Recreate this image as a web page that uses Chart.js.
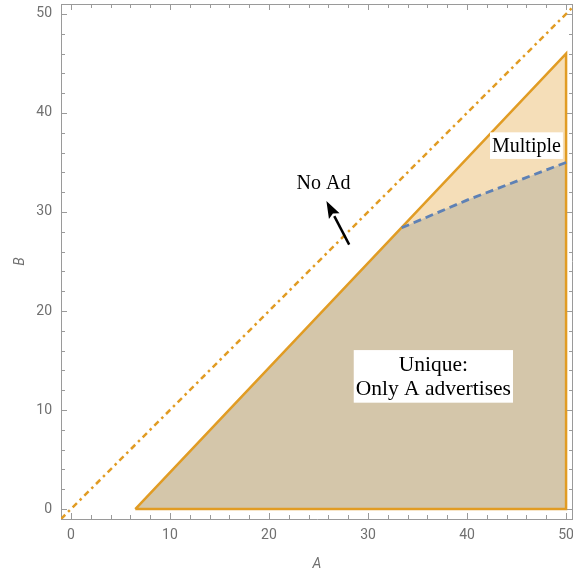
<!DOCTYPE html>
<html>
<head>
<meta charset="utf-8">
<script src="https://cdn.jsdelivr.net/npm/chart.js@4.4.1/dist/chart.umd.min.js"></script>
<style>
  html, body { margin: 0; padding: 0; background: #fff; }
  canvas { display: block; }
</style>
</head>
<body>
<canvas id="regionChart" width="573" height="574"></canvas>
<script>
(function() {
    'use strict';

    // Outer region boundary: A threshold line, right edge, bottom edge
    const outerA = [6.5, 50, 50, 6.5];
    const outerB = [0, 46, 0, 0];

    // "Only A advertises" region (below the dashed boundary)
    const uniqueA = [6.5, 33.4, 40, 50, 50, 6.5];
    const uniqueB = [0, 28.4, 31.2, 35, 0, 0];

    // Dashed boundary between unique and multiple
    const splitA = [33.4, 40, 50];
    const splitB = [28.4, 31.2, 35];

    // Dash-dot diagonal B = A
    const diagA = [-1, 51];
    const diagB = [-1, 51];

    const xTicks = [0, 10, 20, 30, 40, 50];
    const yTicks = [0, 10, 20, 30, 40, 50];

    // Text labels placed in data coordinates
    const labelText = [['No Ad'], ['Multiple'], ['Unique:', 'Only A advertises']];
    const labelA = [25.5, 46.0, 36.6];
    const labelB = [33.0, 36.7, 13.4];
    const labelSize = [20, 20, 21.5];
    const labelBoxed = [false, true, true];

    // Arrow from tail to head (data coordinates)
    const arrowA = [28.1, 25.8];
    const arrowB = [26.7, 31.1];

    const ORANGE = '#E19C24';
    const BLUE = '#5E81B5';
    const AXIS_GRAY = '#9a9a9a';
    const LABEL_GRAY = '#707070';

    function toPoints(xs, ys) {
        return xs.map((x, i) => ({ x: x, y: ys[i] }));
    }

    // Inward ticks on all four sides plus top/right frame
    const frameTicks = {
        id: 'frameTicks',
        afterDatasetsDraw(chart) {
            const ctx = chart.ctx;
            const area = chart.chartArea;
            const xs = chart.scales.x;
            const ys = chart.scales.y;
            ctx.save();
            ctx.strokeStyle = AXIS_GRAY;
            ctx.lineWidth = 1;
            ctx.beginPath();
            ctx.moveTo(area.left, area.top + 0.5);
            ctx.lineTo(area.right, area.top + 0.5);
            ctx.moveTo(area.right - 0.5, area.top);
            ctx.lineTo(area.right - 0.5, area.bottom);
            for (let v = 0; v <= 50; v += 2) {
                const len = (v % 10 === 0) ? 6 : 4;
                const px = Math.round(xs.getPixelForValue(v)) + 0.5;
                ctx.moveTo(px, area.bottom);
                ctx.lineTo(px, area.bottom - len);
                ctx.moveTo(px, area.top);
                ctx.lineTo(px, area.top + len);
                const py = Math.round(ys.getPixelForValue(v)) + 0.5;
                ctx.moveTo(area.left, py);
                ctx.lineTo(area.left + len, py);
                ctx.moveTo(area.right, py);
                ctx.lineTo(area.right - len, py);
            }
            ctx.stroke();
            ctx.restore();
        }
    };

    // Labels with white boxes and the arrow
    const annotations = {
        id: 'annotations',
        afterDatasetsDraw(chart) {
            const ctx = chart.ctx;
            const xs = chart.scales.x;
            const ys = chart.scales.y;
            ctx.save();
            ctx.textAlign = 'center';
            ctx.textBaseline = 'middle';
            labelText.forEach((lines, i) => {
                const size = labelSize[i];
                const lineH = size * 1.13;
                ctx.font = size + 'px "Liberation Serif", "Times New Roman", serif';
                const cx = xs.getPixelForValue(labelA[i]);
                const cy = ys.getPixelForValue(labelB[i]);
                const w = Math.max(...lines.map(t => ctx.measureText(t).width));
                const h = lines.length * lineH;
                if (labelBoxed[i]) {
                    ctx.fillStyle = '#ffffff';
                    ctx.fillRect(cx - w / 2 - 2, cy - h / 2 - 2, w + 4, h + 4);
                }
                ctx.fillStyle = '#000000';
                lines.forEach((t, j) => {
                    ctx.fillText(t, cx, cy - h / 2 + lineH * (j + 0.5) + 1);
                });
            });

            const x0 = xs.getPixelForValue(arrowA[0]);
            const y0 = ys.getPixelForValue(arrowB[0]);
            const x1 = xs.getPixelForValue(arrowA[1]);
            const y1 = ys.getPixelForValue(arrowB[1]);
            const ang = Math.atan2(y1 - y0, x1 - x0);
            const headLen = 17;
            const headW = 6;
            const bx = x1 - headLen * Math.cos(ang);
            const by = y1 - headLen * Math.sin(ang);
            ctx.strokeStyle = '#000';
            ctx.lineWidth = 2.5;
            ctx.beginPath();
            ctx.moveTo(x0, y0);
            ctx.lineTo(bx, by);
            ctx.stroke();
            ctx.fillStyle = '#000';
            ctx.beginPath();
            ctx.moveTo(x1, y1);
            ctx.lineTo(bx + headW * Math.sin(ang), by - headW * Math.cos(ang));
            ctx.lineTo(bx + 3 * Math.cos(ang), by + 3 * Math.sin(ang));
            ctx.lineTo(bx - headW * Math.sin(ang), by + headW * Math.cos(ang));
            ctx.closePath();
            ctx.fill();
            ctx.restore();
        }
    };

    const ctx = document.getElementById('regionChart').getContext('2d');
    new Chart(ctx, {
        type: 'scatter',
        data: {
            datasets: [
                {
                    data: toPoints(outerA, outerB),
                    showLine: true,
                    fill: 'shape',
                    backgroundColor: 'rgba(245, 222, 184, 1)',
                    borderWidth: 0,
                    pointRadius: 0,
                    order: 5
                },
                {
                    data: toPoints(uniqueA, uniqueB),
                    showLine: true,
                    fill: 'shape',
                    backgroundColor: 'rgba(212, 198, 170, 1)',
                    borderWidth: 0,
                    pointRadius: 0,
                    order: 4
                },
                {
                    data: toPoints(outerA, outerB),
                    showLine: true,
                    fill: false,
                    borderColor: ORANGE,
                    borderWidth: 2.5,
                    pointRadius: 0,
                    order: 3
                },
                {
                    data: toPoints(splitA, splitB),
                    showLine: true,
                    fill: false,
                    borderColor: BLUE,
                    borderWidth: 2.8,
                    borderDash: [8, 5],
                    pointRadius: 0,
                    order: 2
                },
                {
                    data: toPoints(diagA, diagB),
                    showLine: true,
                    fill: false,
                    borderColor: ORANGE,
                    borderWidth: 2.5,
                    borderDash: [6, 4, 2.5, 4],
                    pointRadius: 0,
                    order: 1
                }
            ]
        },
        options: {
            responsive: false,
            animation: false,
            devicePixelRatio: 1,
            layout: { autoPadding: false, padding: { top: 4, right: 0, left: 0, bottom: 0 } },
            plugins: {
                legend: { display: false },
                tooltip: { enabled: false }
            },
            scales: {
                x: {
                    type: 'linear',
                    min: -1,
                    max: 50.7,
                    afterFit: function(scale) {
                        scale.height = 55;
                        scale.paddingLeft = 0;
                        scale.paddingRight = 0;
                    },
                    afterBuildTicks: function(scale) {
                        scale.ticks = xTicks.map(v => ({ value: v }));
                    },
                    grid: { display: false, drawTicks: false },
                    border: { display: true, color: AXIS_GRAY, width: 1 },
                    ticks: {
                        padding: 8,
                        color: LABEL_GRAY,
                        font: { family: 'Roboto, "Liberation Sans", sans-serif', size: 14 }
                    },
                    title: {
                        display: true,
                        text: 'A',
                        color: LABEL_GRAY,
                        font: { family: 'Roboto, "Liberation Sans", sans-serif', size: 14, style: 'italic' },
                        padding: { top: 0, bottom: 1 }
                    }
                },
                y: {
                    type: 'linear',
                    min: -1,
                    max: 51,
                    afterFit: function(scale) {
                        scale.width = 61;
                        scale.paddingTop = 0;
                        scale.paddingBottom = 0;
                    },
                    afterBuildTicks: function(scale) {
                        scale.ticks = yTicks.map(v => ({ value: v }));
                    },
                    grid: { display: false, drawTicks: false },
                    border: { display: true, color: AXIS_GRAY, width: 1 },
                    ticks: {
                        padding: 9,
                        color: LABEL_GRAY,
                        font: { family: 'Roboto, "Liberation Sans", sans-serif', size: 14 }
                    },
                    title: {
                        display: true,
                        text: 'B',
                        color: LABEL_GRAY,
                        font: { family: 'Roboto, "Liberation Sans", sans-serif', size: 14, style: 'italic' },
                        padding: { top: 12, bottom: 0 }
                    }
                }
            }
        },
        plugins: [frameTicks, annotations]
    });
})();
</script>
</body>
</html>
